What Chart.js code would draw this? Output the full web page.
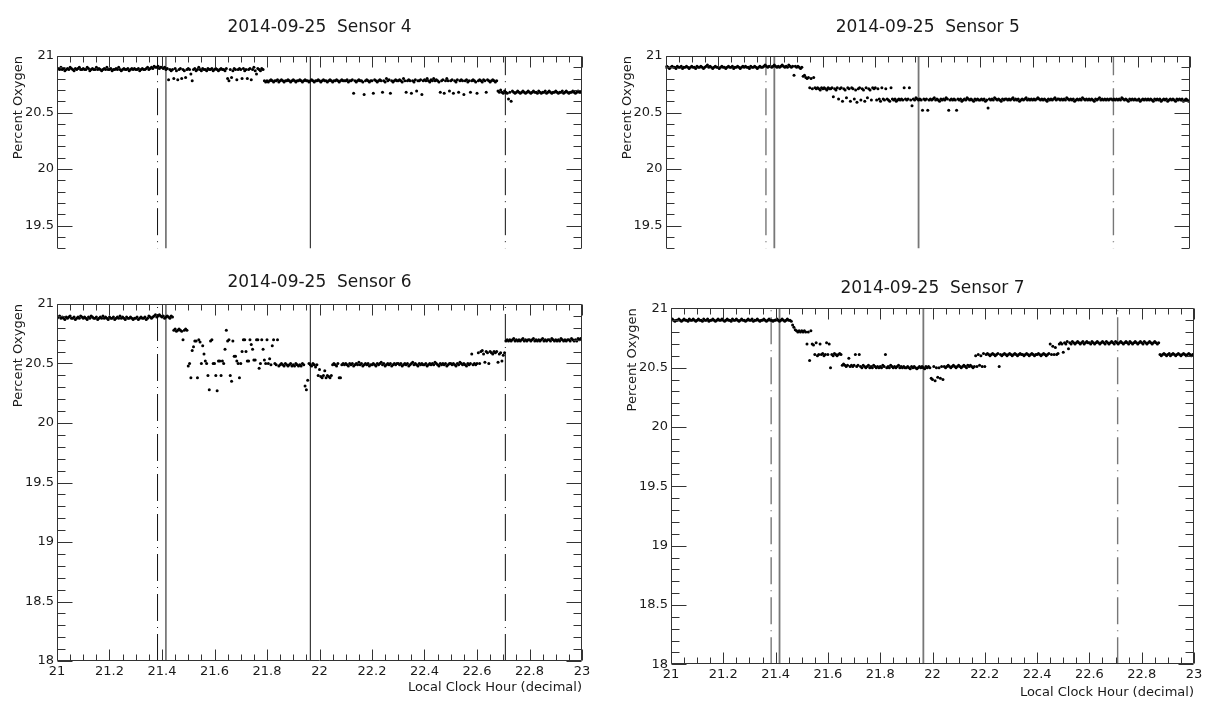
<!DOCTYPE html>
<html>
<head>
<meta charset="utf-8">
<title>Percent Oxygen, sensors 4-7</title>
<script src="https://cdn.jsdelivr.net/npm/chart.js@4.4.1/dist/chart.umd.min.js"></script>
<style>
  html, body { margin: 0; padding: 0; background: #fff; }
  body { width: 1212px; height: 710px; position: relative; overflow: hidden; }
  canvas { position: absolute; }
</style>
</head>
<body>
<canvas id="s4" width="600" height="259" style="left:0;top:0"></canvas>
<canvas id="s5" width="612" height="259" style="left:600px;top:0"></canvas>
<canvas id="s6" width="600" height="448" style="left:0;top:262px"></canvas>
<canvas id="s7" width="612" height="448" style="left:600px;top:262px"></canvas>
<script>
// --- data -------------------------------------------------------------
const dateLabel = '2014-09-25';
const sensorNames = ['Sensor 4', 'Sensor 5', 'Sensor 6', 'Sensor 7'];
const sampleStart = 21.0;   // first reading, local clock hour
const sampleStep = 0.005;   // hours between readings
const xTicks = [21, 21.2, 21.4, 21.6, 21.8, 22, 22.2, 22.4, 22.6, 22.8, 23];
const yTicks = [18, 18.5, 19, 19.5, 20, 20.5, 21];
const solidMarks = [21.415, 21.965];
const dashDotMarks = [21.383, 22.708];

// one row = 0.1 h of readings
const s4 = [
  20.88,20.89,20.88,20.9,20.88,20.89,20.87,20.88,20.89,20.88,20.9,20.89,20.88,20.87,20.89,20.88,20.89,20.9,20.88,20.88,
  20.89,20.88,20.88,20.9,20.89,20.87,20.88,20.89,20.88,20.88,20.9,20.88,20.89,20.88,20.87,20.88,20.89,20.88,20.9,20.88,
  20.88,20.89,20.87,20.88,20.88,20.89,20.88,20.9,20.88,20.87,20.88,20.89,20.88,20.88,20.89,20.87,20.88,20.89,20.88,20.89,
  20.88,20.88,20.89,20.87,20.88,20.89,20.88,20.88,20.89,20.9,20.88,20.89,20.9,20.89,20.91,20.9,20.9,20.91,20.89,20.9,
  20.9,20.89,20.9,20.88,20.89,20.79,20.88,20.87,20.88,20.8,20.89,20.87,20.79,20.88,20.89,20.8,20.88,20.87,20.81,20.88,
  20.89,20.88,20.84,20.78,20.88,20.89,20.87,20.88,20.9,20.88,20.87,20.89,20.88,20.88,20.87,20.89,20.88,20.88,20.89,20.87,
  20.88,20.89,20.88,20.87,20.88,20.89,20.88,20.88,20.87,20.89,20.8,20.78,20.88,20.81,20.87,20.89,20.88,20.79,20.88,20.89,
  20.88,20.8,20.89,20.87,20.88,20.8,20.88,20.89,20.79,20.88,20.9,20.87,20.84,20.89,20.88,20.87,20.89,20.88,20.78,20.77,
  20.78,20.77,20.78,20.79,20.78,20.77,20.78,20.78,20.79,20.77,20.78,20.79,20.78,20.77,20.78,20.78,20.79,20.78,20.77,20.78,
  20.79,20.78,20.77,20.78,20.78,20.79,20.78,20.77,20.78,20.79,20.78,20.78,20.77,20.78,20.79,20.78,20.77,20.78,20.78,20.79,
  20.78,20.77,20.78,20.79,20.78,20.78,20.77,20.78,20.79,20.78,20.77,20.78,20.78,20.79,20.78,20.77,20.78,20.79,20.78,20.78,
  20.78,20.79,20.77,20.78,20.78,20.79,20.67,20.78,20.77,20.78,20.79,20.78,20.78,20.77,20.66,20.78,20.79,20.78,20.77,20.78,
  20.78,20.67,20.79,20.78,20.77,20.78,20.79,20.78,20.68,20.78,20.77,20.8,20.78,20.79,20.67,20.78,20.77,20.78,20.79,20.78,
  20.78,20.79,20.78,20.77,20.8,20.78,20.68,20.78,20.79,20.78,20.67,20.78,20.77,20.79,20.69,20.78,20.78,20.79,20.66,20.78,
  20.79,20.78,20.8,20.78,20.77,20.79,20.78,20.8,20.78,20.79,20.78,20.77,20.68,20.78,20.79,20.67,20.78,20.8,20.78,20.69,
  20.78,20.79,20.67,20.78,20.77,20.79,20.68,20.78,20.79,20.78,20.66,20.78,20.79,20.77,20.78,20.68,20.78,20.79,20.78,20.77,
  20.67,20.78,20.79,20.78,20.77,20.79,20.78,20.68,20.79,20.78,20.77,20.78,20.79,20.78,20.77,20.78,20.69,20.68,20.7,20.68,
  20.67,20.69,20.68,20.67,20.62,20.68,20.6,20.69,20.68,20.67,20.68,20.69,20.68,20.67,20.68,20.69,20.68,20.67,20.68,20.69,
  20.68,20.67,20.68,20.69,20.68,20.68,20.67,20.69,20.68,20.67,20.68,20.68,20.69,20.67,20.68,20.69,20.68,20.67,20.68,20.68,
  20.69,20.68,20.67,20.68,20.68,20.69,20.67,20.68,20.69,20.68,20.67,20.68,20.68,20.69,20.68,20.67,20.68,20.69,20.68,20.68
];
const s5 = [
  20.9,20.91,20.9,20.89,20.9,20.91,20.9,20.9,20.89,20.91,20.9,20.9,20.91,20.89,20.9,20.9,20.91,20.9,20.89,20.9,
  20.91,20.9,20.9,20.89,20.91,20.9,20.9,20.91,20.9,20.89,20.9,20.91,20.92,20.9,20.91,20.9,20.89,20.9,20.91,20.9,
  20.9,20.89,20.9,20.91,20.9,20.9,20.89,20.9,20.91,20.9,20.9,20.91,20.89,20.9,20.9,20.91,20.9,20.89,20.9,20.91,
  20.9,20.91,20.9,20.9,20.89,20.91,20.9,20.9,20.91,20.9,20.89,20.9,20.91,20.9,20.9,20.91,20.92,20.91,20.9,20.91,
  20.91,20.9,20.91,20.92,20.91,20.9,20.91,20.9,20.91,20.92,20.91,20.9,20.91,20.9,20.92,20.91,20.9,20.91,20.83,20.91,
  20.9,20.91,20.9,20.89,20.9,20.82,20.83,20.81,20.8,20.81,20.72,20.8,20.71,20.81,20.72,20.71,20.72,20.71,20.7,20.72,
  20.71,20.72,20.71,20.7,20.72,20.71,20.71,20.72,20.64,20.71,20.7,20.72,20.62,20.71,20.72,20.6,20.71,20.7,20.63,20.72,
  20.71,20.6,20.72,20.71,20.62,20.7,20.59,20.71,20.72,20.61,20.71,20.7,20.6,20.72,20.63,20.71,20.7,20.61,20.72,20.71,
  20.72,20.61,20.71,20.62,20.6,20.72,20.62,20.61,20.71,20.62,20.61,20.6,20.72,20.62,20.61,20.62,20.6,20.61,20.62,20.61,
  20.62,20.61,20.72,20.62,20.61,20.62,20.72,20.61,20.56,20.62,20.61,20.63,20.62,20.61,20.62,20.61,20.52,20.62,20.61,20.62,
  20.52,20.61,20.62,20.61,20.62,20.63,20.61,20.62,20.61,20.6,20.62,20.61,20.62,20.61,20.63,20.62,20.52,20.61,20.62,20.61,
  20.62,20.61,20.52,20.62,20.61,20.62,20.6,20.61,20.62,20.61,20.63,20.62,20.61,20.62,20.61,20.6,20.62,20.61,20.62,20.61,
  20.61,20.62,20.61,20.62,20.6,20.61,20.54,20.62,20.61,20.62,20.61,20.63,20.62,20.61,20.62,20.61,20.6,20.62,20.61,20.62,
  20.62,20.61,20.62,20.61,20.62,20.63,20.61,20.62,20.61,20.62,20.6,20.61,20.62,20.61,20.62,20.63,20.61,20.62,20.61,20.62,
  20.61,20.62,20.61,20.62,20.63,20.62,20.61,20.62,20.61,20.62,20.61,20.6,20.62,20.61,20.62,20.61,20.62,20.63,20.61,20.62,
  20.62,20.61,20.62,20.61,20.62,20.61,20.63,20.62,20.61,20.62,20.61,20.62,20.6,20.61,20.62,20.61,20.62,20.61,20.63,20.62,
  20.61,20.62,20.61,20.62,20.61,20.62,20.61,20.6,20.62,20.61,20.62,20.63,20.61,20.62,20.61,20.62,20.61,20.62,20.61,20.62,
  20.62,20.61,20.62,20.61,20.62,20.61,20.62,20.61,20.63,20.62,20.61,20.62,20.61,20.6,20.62,20.61,20.62,20.61,20.62,20.61,
  20.61,20.62,20.6,20.61,20.62,20.61,20.62,20.61,20.62,20.61,20.62,20.61,20.6,20.62,20.61,20.62,20.61,20.62,20.6,20.61,
  20.62,20.61,20.62,20.6,20.61,20.62,20.61,20.62,20.61,20.6,20.62,20.61,20.62,20.61,20.62,20.6,20.61,20.62,20.61,20.6
];
const s6 = [
  20.88,20.89,20.9,20.88,20.89,20.88,20.87,20.89,20.88,20.89,20.9,20.88,20.88,20.89,20.87,20.88,20.89,20.88,20.9,20.89,
  20.88,20.89,20.88,20.87,20.89,20.88,20.9,20.89,20.88,20.88,20.89,20.87,20.88,20.89,20.88,20.9,20.88,20.89,20.88,20.87,
  20.89,20.88,20.88,20.89,20.87,20.88,20.89,20.88,20.9,20.88,20.89,20.88,20.87,20.89,20.88,20.88,20.89,20.88,20.87,20.88,
  20.88,20.89,20.87,20.88,20.89,20.88,20.88,20.89,20.87,20.88,20.9,20.89,20.88,20.89,20.9,20.91,20.89,20.9,20.91,20.9,
  20.89,20.9,20.88,20.89,20.9,20.89,20.88,20.9,20.89,20.78,20.79,20.77,20.78,20.79,20.78,20.77,20.7,20.78,20.79,20.78,
  20.48,20.5,20.38,20.61,20.64,20.69,20.69,20.38,20.7,20.68,20.5,20.65,20.58,20.52,20.5,20.4,20.28,20.69,20.7,20.5,
  20.5,20.4,20.27,20.52,20.52,20.4,20.52,20.5,20.62,20.78,20.69,20.7,20.4,20.35,20.69,20.56,20.56,20.52,20.5,20.38,
  20.5,20.6,20.7,20.7,20.6,20.52,20.52,20.7,20.66,20.62,20.53,20.53,20.7,20.7,20.46,20.5,20.7,20.62,20.53,20.5,
  20.7,20.5,20.54,20.49,20.65,20.7,20.5,20.49,20.7,20.48,20.49,20.5,20.49,20.48,20.5,20.49,20.48,20.49,20.5,20.48,
  20.49,20.48,20.5,20.49,20.48,20.49,20.48,20.5,20.49,20.31,20.28,20.36,20.5,20.49,20.48,20.5,20.49,20.47,20.49,20.4,
  20.45,20.39,20.38,20.4,20.44,20.38,20.4,20.39,20.38,20.4,20.49,20.5,20.49,20.48,20.5,20.38,20.38,20.49,20.5,20.49,
  20.5,20.49,20.48,20.5,20.49,20.5,20.48,20.49,20.5,20.49,20.51,20.49,20.5,20.48,20.49,20.5,20.49,20.5,20.48,20.49,
  20.49,20.5,20.49,20.48,20.5,20.49,20.5,20.51,20.49,20.5,20.48,20.49,20.5,20.49,20.5,20.48,20.49,20.5,20.49,20.5,
  20.5,20.49,20.5,20.48,20.49,20.5,20.49,20.5,20.48,20.49,20.5,20.51,20.49,20.5,20.49,20.48,20.5,20.49,20.5,20.49,
  20.49,20.5,20.48,20.49,20.5,20.49,20.5,20.49,20.51,20.5,20.49,20.48,20.5,20.49,20.5,20.49,20.5,20.48,20.49,20.5,
  20.5,20.49,20.5,20.49,20.48,20.5,20.49,20.51,20.5,20.49,20.5,20.49,20.48,20.5,20.49,20.5,20.58,20.49,20.5,20.49,
  20.5,20.59,20.5,20.6,20.61,20.58,20.51,20.6,20.59,20.5,20.6,20.59,20.58,20.6,20.59,20.6,20.51,20.58,20.59,20.52,
  20.57,20.59,20.69,20.7,20.69,20.7,20.69,20.7,20.71,20.69,20.7,20.69,20.7,20.69,20.7,20.71,20.69,20.7,20.69,20.7,
  20.7,20.69,20.7,20.71,20.69,20.7,20.69,20.7,20.69,20.7,20.71,20.69,20.7,20.69,20.7,20.7,20.69,20.71,20.7,20.69,
  20.7,20.69,20.7,20.69,20.71,20.7,20.69,20.7,20.69,20.7,20.7,20.69,20.71,20.7,20.69,20.7,20.69,20.71,20.7,20.71
];
const s7 = [
  20.9,20.91,20.9,20.89,20.9,20.9,20.91,20.9,20.89,20.9,20.91,20.9,20.9,20.89,20.91,20.9,20.9,20.91,20.9,20.89,
  20.9,20.91,20.9,20.9,20.89,20.91,20.9,20.9,20.91,20.89,20.9,20.9,20.91,20.9,20.89,20.9,20.91,20.9,20.9,20.91,
  20.9,20.89,20.9,20.91,20.9,20.9,20.89,20.91,20.9,20.9,20.91,20.9,20.89,20.9,20.91,20.9,20.9,20.89,20.9,20.91,
  20.9,20.9,20.91,20.89,20.9,20.9,20.91,20.9,20.89,20.9,20.9,20.91,20.9,20.89,20.9,20.91,20.9,20.9,20.89,20.9,
  20.9,20.91,20.9,20.89,20.9,20.91,20.9,20.89,20.9,20.91,20.9,20.9,20.89,20.86,20.84,20.82,20.81,20.8,20.81,20.8,
  20.81,20.8,20.81,20.8,20.7,20.8,20.56,20.81,20.7,20.69,20.61,20.71,20.6,20.61,20.7,20.61,20.62,20.6,20.61,20.71,
  20.61,20.7,20.5,20.61,20.6,20.62,20.61,20.6,20.61,20.62,20.61,20.52,20.53,20.52,20.51,20.52,20.58,20.51,20.52,20.51,
  20.52,20.61,20.51,20.52,20.61,20.51,20.5,20.52,20.51,20.5,20.51,20.52,20.5,20.51,20.5,20.52,20.51,20.5,20.51,20.5,
  20.51,20.5,20.52,20.51,20.61,20.5,20.51,20.5,20.52,20.51,20.5,20.51,20.5,20.51,20.52,20.5,20.51,20.5,20.51,20.5,
  20.5,20.51,20.5,20.49,20.51,20.5,20.51,20.5,20.49,20.5,20.51,20.5,20.51,20.5,20.49,20.51,20.5,20.51,20.5,20.41,
  20.4,20.51,20.39,20.5,20.42,20.5,20.41,20.51,20.4,20.51,20.5,20.51,20.52,20.51,20.5,20.51,20.52,20.51,20.5,20.51,
  20.52,20.51,20.5,20.51,20.52,20.51,20.5,20.52,20.51,20.52,20.51,20.5,20.51,20.6,20.51,20.61,20.52,20.6,20.51,20.62,
  20.51,20.61,20.62,20.61,20.6,20.61,20.62,20.61,20.6,20.61,20.62,20.51,20.61,20.6,20.61,20.62,20.61,20.6,20.61,20.62,
  20.61,20.6,20.61,20.62,20.61,20.6,20.61,20.62,20.61,20.61,20.6,20.61,20.62,20.61,20.6,20.61,20.62,20.61,20.6,20.61,
  20.61,20.62,20.61,20.6,20.61,20.62,20.61,20.6,20.61,20.62,20.7,20.61,20.68,20.61,20.67,20.61,20.62,20.7,20.71,20.7,
  20.63,20.71,20.7,20.72,20.66,20.71,20.7,20.72,20.71,20.7,20.71,20.72,20.71,20.7,20.71,20.72,20.7,20.71,20.72,20.71,
  20.71,20.7,20.72,20.71,20.7,20.71,20.72,20.71,20.7,20.71,20.72,20.71,20.7,20.72,20.71,20.7,20.71,20.72,20.71,20.7,
  20.72,20.71,20.7,20.71,20.72,20.71,20.7,20.71,20.72,20.71,20.7,20.72,20.71,20.7,20.71,20.72,20.71,20.7,20.71,20.72,
  20.71,20.7,20.72,20.71,20.7,20.71,20.72,20.71,20.7,20.71,20.72,20.71,20.7,20.71,20.61,20.6,20.61,20.62,20.61,20.6,
  20.61,20.62,20.6,20.61,20.62,20.61,20.6,20.61,20.62,20.61,20.6,20.61,20.62,20.61,20.6,20.61,20.62,20.61,20.6,20.61
];

// --- drawing ----------------------------------------------------------
const fontFamily = "'DejaVu Sans', 'Liberation Sans', sans-serif";
const textColor = '#1a1a1a';

// inward ROOT-style ticks on all four sides plus the frame
const frameTicks = {
  id: 'frameTicks',
  afterDatasetsDraw(chart, args, opts) {
    const {ctx, chartArea: a, scales: {x, y}} = chart;
    const L = Math.round(a.left) + 0.5, R = Math.round(a.right) - 0.5;
    const T = Math.round(a.top) + 0.5, B = Math.round(a.bottom) - 0.5;
    ctx.save();
    ctx.strokeStyle = '#333';
    ctx.lineWidth = 1;
    ctx.beginPath();
    ctx.moveTo(L, opts.closed ? B : a.bottom);
    ctx.lineTo(L, T);
    ctx.lineTo(R, T);
    ctx.lineTo(R, opts.closed ? B : a.bottom);
    if (opts.closed) ctx.lineTo(L, B);

    for (let i = 0; i < xTicks.length; i++) {
      const sub = i < xTicks.length - 1 ? 4 : 1;
      for (let k = 0; k < sub; k++) {
        const v = xTicks[i] + k * (i < xTicks.length - 1 ? (xTicks[i + 1] - xTicks[i]) / 4 : 0);
        const px = Math.round(x.getPixelForValue(v)) + 0.5;
        const len = k === 0 ? 11 : 6;
        ctx.moveTo(px, T); ctx.lineTo(px, T + len);
        if (opts.closed) { ctx.moveTo(px, B); ctx.lineTo(px, B - len); }
      }
    }
    for (let i = 0; i < yTicks.length; i++) {
      const sub = i < yTicks.length - 1 ? 5 : 1;
      for (let k = 0; k < sub; k++) {
        const v = yTicks[i] + k * (i < yTicks.length - 1 ? (yTicks[i + 1] - yTicks[i]) / 5 : 0);
        if (v < y.min - 1e-9) continue;
        const py = Math.round(y.getPixelForValue(v)) + 0.5;
        const len = k === 0 ? 15 : 8;
        ctx.moveTo(L, py); ctx.lineTo(L + len, py);
        ctx.moveTo(R, py); ctx.lineTo(R - len, py);
      }
    }
    ctx.stroke();
    ctx.restore();
  }
};

function markLine(hour, dash, cfg) {
  return {
    data: [{x: hour, y: 18}, {x: hour, y: 21}],
    showLine: true,
    borderColor: cfg.lineColor,
    borderWidth: dash.length ? cfg.dashWidth : cfg.lineWidth,
    borderDash: dash,
    pointRadius: 0
  };
}

function makePanel(id, name, values, cfg) {
  const points = [];
  values.forEach((v, i) => {
    if (v !== null) points.push({x: sampleStart + i * sampleStep, y: v});
  });
  const datasets = [{
    data: points,
    showLine: false,
    pointRadius: 1.5,
    pointBorderWidth: 0,
    pointBackgroundColor: '#000'
  }];
  solidMarks.forEach(h => datasets.push(markLine(h, [], cfg)));
  dashDotMarks.forEach(h => datasets.push(markLine(h, [27, 6, 1, 6], cfg)));

  const tickFont = {family: fontFamily, size: 13};
  new Chart(document.getElementById(id), {
    type: 'scatter',
    data: {datasets},
    options: {
      responsive: false,
      animation: false,
      devicePixelRatio: 1,
      layout: {padding: {left: 0, right: cfg.padRight, top: 0, bottom: 0}},
      plugins: {
        legend: {display: false},
        tooltip: {enabled: false},
        title: {
          display: true,
          text: dateLabel + '  ' + name,
          fullSize: false,
          color: textColor,
          font: {family: fontFamily, size: 17, weight: 'normal'},
          padding: {top: cfg.titleTop, bottom: cfg.titleBottom}
        },
        frameTicks: {closed: cfg.showX}
      },
      scales: {
        x: {
          type: 'linear', min: 21, max: 23,
          display: cfg.showX,
          grid: {display: false, drawTicks: false},
          border: {display: false},
          afterBuildTicks: s => { s.ticks = xTicks.map(v => ({value: v})); },
          afterFit: s => { s.height = cfg.xAxisHeight; },
          ticks: {padding: 3, color: textColor, font: tickFont, maxRotation: 0, autoSkip: false,
                  callback: v => String(v)},
          title: {display: cfg.showX, text: 'Local Clock Hour (decimal)', align: 'end',
                  color: textColor, font: tickFont, padding: {top: 0, bottom: cfg.xTitlePad}}
        },
        y: {
          min: cfg.yMin, max: 21,
          grid: {display: false, drawTicks: false},
          border: {display: false},
          afterBuildTicks: s => { s.ticks = yTicks.filter(v => v >= cfg.yMin).map(v => ({value: v})); },
          afterFit: s => { s.width = cfg.yAxisWidth; },
          ticks: {padding: 3, color: textColor, font: tickFont, callback: v => String(v)},
          title: {display: true, text: 'Percent Oxygen', align: 'end',
                  color: textColor, font: tickFont, padding: {top: cfg.yTitlePad, bottom: 0}}
        }
      }
    },
    plugins: [frameTicks]
  });
}

makePanel('s4', sensorNames[0], s4, {
  yMin: 19.3, showX: false, yAxisWidth: 57, padRight: 18, xAxisHeight: 0,
  titleTop: 17.8, titleBottom: 17.8, yTitlePad: 11, xTitlePad: 0,
  lineColor: '#111', lineWidth: 1, dashWidth: 1
});
makePanel('s5', sensorNames[1], s5, {
  yMin: 19.3, showX: false, yAxisWidth: 65.5, padRight: 22, xAxisHeight: 0,
  titleTop: 17.8, titleBottom: 17.8, yTitlePad: 20, xTitlePad: 0,
  lineColor: '#777', lineWidth: 1.8, dashWidth: 1.4
});
makePanel('s6', sensorNames[2], s6, {
  yMin: 18, showX: true, yAxisWidth: 57, padRight: 18, xAxisHeight: 49,
  titleTop: 10.8, titleBottom: 10.8, yTitlePad: 11, xTitlePad: 14.5,
  lineColor: '#111', lineWidth: 1, dashWidth: 1
});
makePanel('s7', sensorNames[3], s7, {
  yMin: 18, showX: true, yAxisWidth: 71, padRight: 18, xAxisHeight: 45.7,
  titleTop: 16.8, titleBottom: 9.1, yTitlePad: 25, xTitlePad: 10,
  lineColor: '#777', lineWidth: 1.8, dashWidth: 1.4
});
</script>
</body>
</html>
